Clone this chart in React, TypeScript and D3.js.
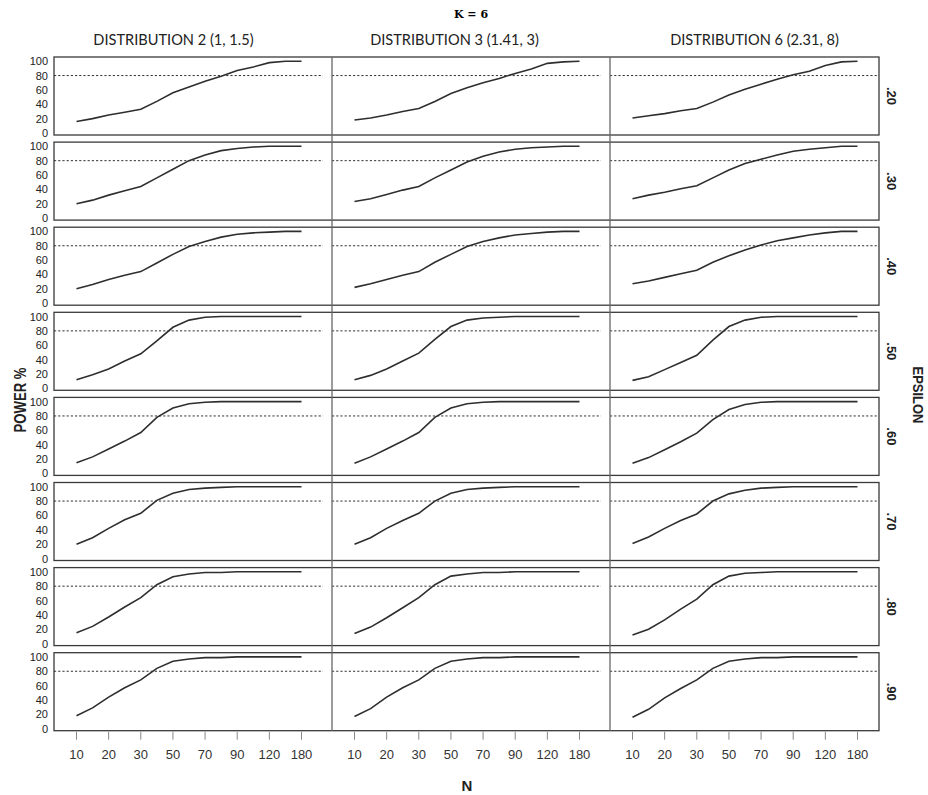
import React from 'react';
import * as d3 from 'd3';

// sample sizes (ordinal axis), every other one is labelled
const nValues = [10, 15, 20, 25, 30, 40, 50, 60, 70, 80, 90, 100, 120, 150, 180];
const tickLabels = [10, 20, 30, 50, 70, 90, 120, 180];
const yTicks = [0, 20, 40, 60, 80, 100];
const target = 80;

const distributions = ['DISTRIBUTION 2 (1, 1.5)', 'DISTRIBUTION 3 (1.41, 3)', 'DISTRIBUTION 6 (2.31, 8)'];
const epsilons = ['.20', '.30', '.40', '.50', '.60', '.70', '.80', '.90'];

// power % per epsilon row, one array per distribution
const dist2 = [
  [16, 20, 25, 29, 33, 44, 56, 64, 72, 79, 87, 92, 98, 100, 100],
  [20, 25, 32, 38, 44, 56, 68, 80, 88, 94, 97, 99, 100, 100, 100],
  [20, 26, 33, 39, 44, 56, 68, 79, 86, 92, 96, 98, 99, 100, 100],
  [12, 19, 27, 38, 48, 66, 85, 95, 99, 100, 100, 100, 100, 100, 100],
  [15, 23, 34, 45, 57, 78, 91, 97, 99, 100, 100, 100, 100, 100, 100],
  [20, 29, 42, 54, 63, 81, 91, 96, 98, 99, 100, 100, 100, 100, 100],
  [15, 24, 37, 51, 64, 82, 93, 97, 99, 99, 100, 100, 100, 100, 100],
  [18, 29, 44, 57, 68, 84, 94, 97, 99, 99, 100, 100, 100, 100, 100]
];
const dist3 = [
  [18, 21, 25, 30, 34, 44, 55, 63, 70, 76, 83, 89, 97, 99, 100],
  [23, 27, 33, 39, 44, 56, 67, 78, 86, 92, 96, 98, 99, 100, 100],
  [22, 27, 33, 39, 44, 57, 68, 79, 86, 91, 95, 97, 99, 100, 100],
  [12, 18, 27, 38, 49, 68, 86, 95, 98, 99, 100, 100, 100, 100, 100],
  [14, 23, 34, 45, 57, 78, 91, 97, 99, 100, 100, 100, 100, 100, 100],
  [20, 29, 42, 53, 63, 80, 91, 96, 98, 99, 100, 100, 100, 100, 100],
  [14, 23, 36, 50, 64, 82, 94, 97, 99, 99, 100, 100, 100, 100, 100],
  [17, 28, 44, 57, 68, 84, 94, 97, 99, 99, 100, 100, 100, 100, 100]
];
const dist6 = [
  [21, 24, 27, 31, 34, 43, 53, 61, 68, 75, 81, 86, 94, 99, 100],
  [27, 32, 36, 41, 45, 56, 67, 76, 82, 88, 93, 96, 98, 100, 100],
  [27, 31, 36, 41, 46, 57, 66, 74, 81, 87, 91, 95, 98, 100, 100],
  [11, 16, 26, 36, 46, 67, 86, 95, 99, 100, 100, 100, 100, 100, 100],
  [14, 22, 33, 44, 56, 75, 89, 96, 99, 100, 100, 100, 100, 100, 100],
  [21, 30, 42, 53, 62, 80, 90, 95, 98, 99, 100, 100, 100, 100, 100],
  [12, 20, 33, 48, 62, 82, 94, 98, 99, 100, 100, 100, 100, 100, 100],
  [16, 27, 43, 56, 68, 84, 94, 97, 99, 99, 100, 100, 100, 100, 100]
];
const series = [dist2, dist3, dist6];

const W = 928;
const H = 795;
const panelW = 269;
const rowH = 78;
const headerShift = [-15, -12, 10];
const sans = 'Liberation Sans, Arial, sans-serif';

export default function App() {
  const col = d3.scaleBand<string>().domain(distributions).range([54, 54 + 3 * 278]);
  const row = d3.scaleBand<string>().domain(epsilons).range([57, 57 + 8 * 85.1]);
  const x = d3.scalePoint<number>().domain(nValues).range([22.5, 247.5]);
  const y = d3.scaleLinear().domain([0, 100]).range([76, 4.2]);
  const line = d3.line<number>()
    .x((_, i) => x(nValues[i]) as number)
    .y(d => y(d));

  const left = col(distributions[0]) as number;
  const right = (col(distributions[2]) as number) + panelW;
  const top = row(epsilons[0]) as number;
  const bottom = (row(epsilons[7]) as number) + rowH;

  return (
    <svg width={W} height={H} style={{ position: 'absolute', left: 0, top: 0, background: '#fff' }}>
      <text x={471} y={14} textAnchor="middle" dominantBaseline="central"
        fontFamily="DejaVu Serif, serif" fontWeight="bold" fontSize={11}>K = 6</text>

      {distributions.map((d, c) => (
        <text key={d} x={(col(d) as number) + panelW / 2 + headerShift[c]} y={39}
          textAnchor="middle" dominantBaseline="central" fontFamily="Lato, sans-serif"
          fontSize={14.6} fill="#222">{d}</text>
      ))}

      {epsilons.map((e, r) => {
        const ty = row(e) as number;
        return (
          <g key={e} transform={`translate(0, ${ty})`}>
            <rect x={left} y={0} width={right - left} height={rowH} fill="none" stroke="#3a3a3a" strokeWidth={1.3} />
            {yTicks.map(t => (
              <text key={t} x={48} y={y(t)} textAnchor="end" dominantBaseline="central"
                fontFamily={sans} fontSize={11} fill="#222">{t}</text>
            ))}
            <text transform={`translate(891, ${rowH / 2}) rotate(90)`} textAnchor="middle"
              dominantBaseline="central" fontFamily={sans} fontWeight="bold" fontSize={13} fill="#222">{e}</text>
            {distributions.map((d, c) => {
              const cx = col(d) as number;
              return (
                <g key={d} transform={`translate(${cx}, 0)`}>
                  <line x1={0} x2={panelW} y1={y(target)} y2={y(target)} stroke="#333"
                    strokeWidth={1} strokeDasharray="2.2,2" />
                  <path d={line(series[c][r]) as string} fill="none" stroke="#2e2e2e" strokeWidth={1.6} />
                </g>
              );
            })}
          </g>
        );
      })}

      {distributions.slice(1).map(d => (
        <line key={d} x1={col(d) as number} x2={col(d) as number} y1={top} y2={bottom}
          stroke="#666" strokeWidth={1.3} />
      ))}

      {distributions.map(d => (
        <g key={d} transform={`translate(${col(d) as number}, ${bottom})`}>
          {tickLabels.map(t => (
            <g key={t} transform={`translate(${x(t) as number}, 0)`}>
              <line y1={1} y2={9} stroke="#888" strokeWidth={1} />
              <text y={24} textAnchor="middle" dominantBaseline="central" fontFamily={sans}
                fontSize={13} fill="#333">{t}</text>
            </g>
          ))}
        </g>
      ))}

      <text x={467} y={785} textAnchor="middle" dominantBaseline="central" fontFamily={sans}
        fontWeight="bold" fontSize={15} fill="#222">N</text>
      <text transform="translate(20, 400) rotate(-90)" textAnchor="middle" dominantBaseline="central"
        fontFamily={sans} fontWeight="bold" fontSize={16} textLength={65} lengthAdjust="spacingAndGlyphs"
        fill="#222">POWER %</text>
      <text transform="translate(918, 395) rotate(90)" textAnchor="middle" dominantBaseline="central"
        fontFamily={sans} fontWeight="bold" fontSize={14} textLength={57} lengthAdjust="spacingAndGlyphs"
        fill="#222">EPSILON</text>
    </svg>
  );
}
